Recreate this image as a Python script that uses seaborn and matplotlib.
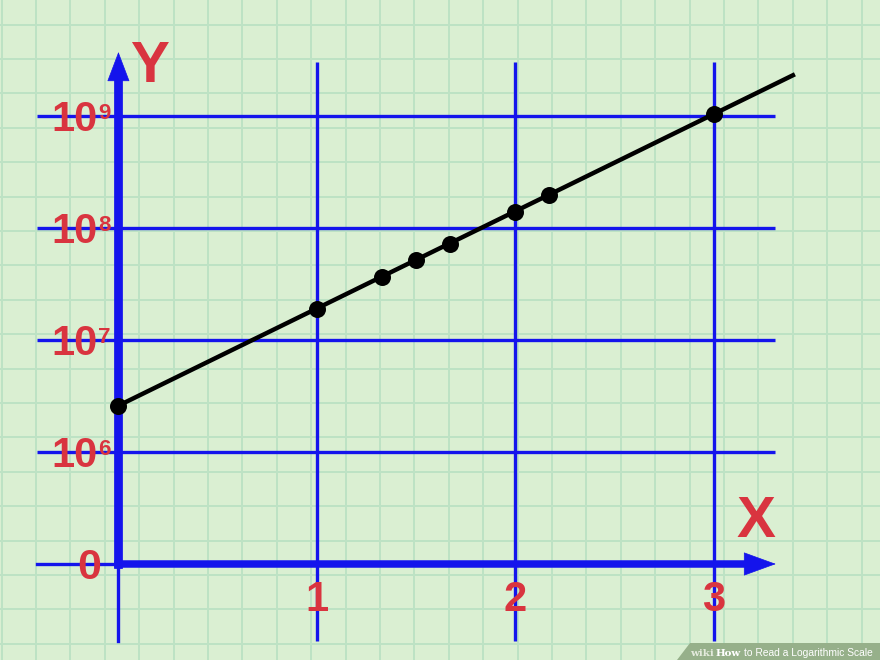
import matplotlib
matplotlib.use('Agg')
import matplotlib.pyplot as plt
from matplotlib.ticker import MultipleLocator
from matplotlib.patches import Polygon
import seaborn as sns

# values
x_points = [0, 1, 1.33, 1.5, 1.67, 2, 2.17, 3]
y_points = [2.6e6, 1.9e7, 3.7e7, 5.2e7, 7.3e7, 1.4e8, 2.0e8, 1.05e9]
line_x = [0, 3.4]
line_y = [2.6e6, 2.33e9]
y_ticks = [1e6, 1e7, 1e8, 1e9]
y_exps = ['6', '7', '8', '9']
x_ticks = [1, 2, 3]
x_labels = ['1', '2', '3']
y_zero = 1e5  # level drawn as "0"

BG = '#daefd2'
PAPER = '#bde2c4'
BLUE = '#1414ec'
RED = '#d9343f'
FONT = ['Liberation Sans', 'DejaVu Sans']


def px(v):
    # pixels -> points at 100 dpi
    return v * 0.72


fig = plt.figure(figsize=(8.8, 6.6), dpi=100)

# graph paper background
bg = fig.add_axes([0, 0, 1, 1], zorder=0)
bg.set_facecolor(BG)
bg.set_xlim(0, 880)
bg.set_ylim(660, 0)
bg.xaxis.set_major_locator(MultipleLocator(34.4, offset=1.6))
bg.yaxis.set_major_locator(MultipleLocator(34.4, offset=24.6))
bg.grid(True, color=PAPER, lw=1.4)
bg.tick_params(length=0, labelbottom=False, labelleft=False)
for s in bg.spines.values():
    s.set_visible(False)

# watermark banner
bg.add_patch(Polygon([(677, 660), (690, 643), (880, 643), (880, 660)],
                     closed=True, fc='#96b08a', ec='none', zorder=3))
bg.text(690, 656, 'wiki', family='DejaVu Serif', fontweight='bold', fontsize=7.4,
        color='#e3eadc', zorder=4)
bg.text(716, 656, 'How', family='DejaVu Serif', fontweight='bold', fontsize=7.4,
        color='white', zorder=4)
bg.text(744, 656, 'to Read a Logarithmic Scale', family=FONT, fontsize=7.4,
        color='white', zorder=4)

# main plot
ax = fig.add_axes([0, 0, 1, 1], zorder=1)
ax.patch.set_alpha(0)
ax.set_yscale('log')
ax.set_xlim(-0.597, 3.839)
ax.set_ylim(10 ** 4.142, 10 ** 10.040)
ax.axis('off')

x_left, x_right = -0.41, 3.31
y_top, y_bottom = 3.06e9, 2.05e4
x_tip, x_head = 3.314, 3.14
y_tip, y_head = 3.76e9, 2.0e9

# blue grid
ax.hlines(y_ticks, x_left, x_right, color=BLUE, lw=2.4, zorder=2)
ax.vlines(x_ticks, y_bottom, y_zero, color=BLUE, lw=2.4, zorder=2)
ax.vlines(x_ticks, y_zero, y_top, color=BLUE, lw=2.4, zorder=2)
ax.plot([x_left, 0], [y_zero, y_zero], color=BLUE, lw=2.4, zorder=2)
ax.plot([0, 0], [y_bottom, y_zero], color=BLUE, lw=2.4, zorder=2)

# thick axes with arrows
ax.plot([0, x_head + 0.02], [y_zero, y_zero], color=BLUE, lw=5.4,
        solid_capstyle='projecting', zorder=3)
ax.plot([0, 0], [y_zero, y_head * 1.05], color=BLUE, lw=6.3,
        solid_capstyle='projecting', zorder=3)
ax.annotate('', xy=(x_tip, y_zero), xytext=(x_head, y_zero),
            arrowprops=dict(arrowstyle='-|>,head_length=2.2,head_width=0.8',
                            mutation_scale=10, lw=0.5, color=BLUE,
                            shrinkA=0, shrinkB=0), zorder=3)
ax.annotate('', xy=(0, y_tip), xytext=(0, y_head),
            arrowprops=dict(arrowstyle='-|>,head_length=2.0,head_width=0.76',
                            mutation_scale=10, lw=0.5, color=BLUE,
                            shrinkA=0, shrinkB=0), zorder=3)

# data
sns.lineplot(x=line_x, y=line_y, color='black', lw=3.2, ax=ax, zorder=4)
sns.scatterplot(x=x_points, y=y_points, s=150, color='black', linewidth=0,
                ax=ax, zorder=5)
ax.axis('off')

# labels
lab = dict(textcoords='offset points', color=RED, fontweight='bold', family=FONT,
           zorder=6, annotation_clip=False)
for yv, e in zip(y_ticks, y_exps):
    ax.annotate('10', xy=(x_left, yv), xytext=(px(61), px(-15)), ha='right',
                va='baseline', fontsize=30, **lab)
    ax.annotate(e, xy=(x_left, yv), xytext=(px(61), px(-3)), ha='left',
                va='baseline', fontsize=16, **lab)
ax.annotate('0', xy=(x_left, y_zero), xytext=(px(52), px(-15)), ha='center',
            va='baseline', fontsize=31, **lab)
for xt, t in zip(x_ticks, x_labels):
    ax.annotate(t, xy=(xt, y_zero), xytext=(0, px(-47)), ha='center',
                va='baseline', fontsize=30, **lab)
ax.annotate('Y', xy=(0, y_tip), xytext=(px(31), px(-30)), ha='center',
            va='baseline', fontsize=42, **lab)
ax.annotate('X', xy=(x_tip, y_zero), xytext=(px(-20), px(27)), ha='center',
            va='baseline', fontsize=42, **lab)

fig.savefig('out.png', dpi=100)
